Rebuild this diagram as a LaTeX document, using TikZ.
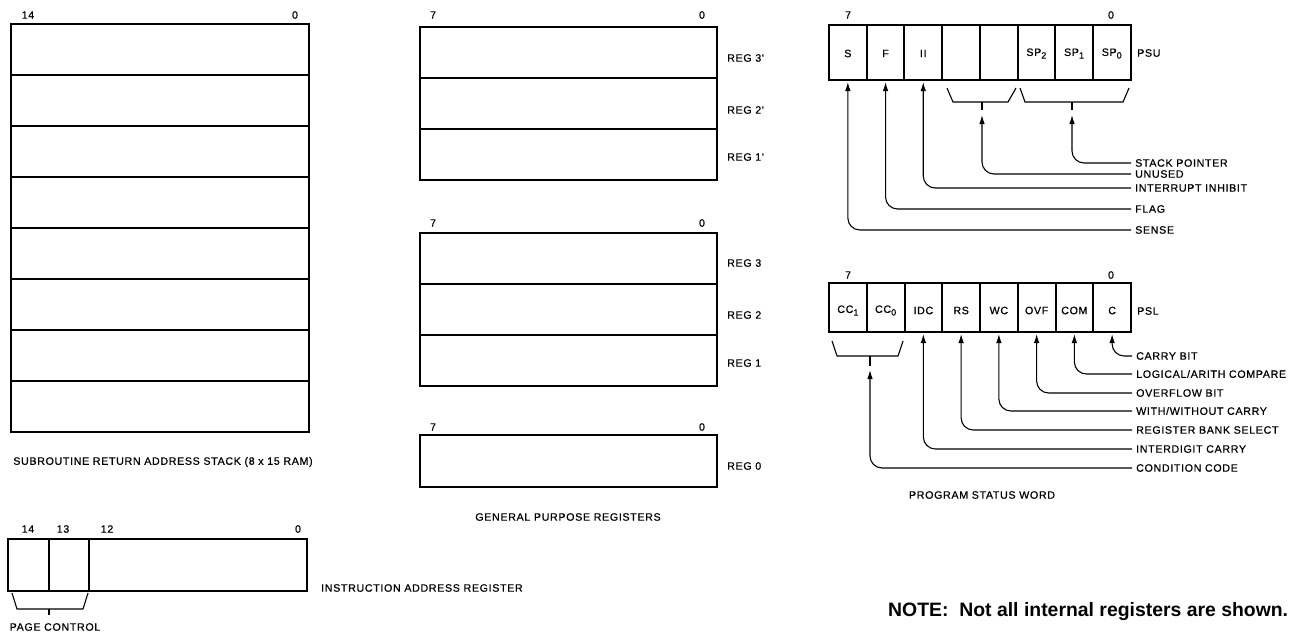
\documentclass[tikz,border=0pt]{standalone}
\usepackage{fontspec}
\setmainfont{Liberation Sans}
\newfontfamily\lblfont[LetterSpace=6,FakeBold=0.6]{Liberation Sans}
\newcommand{\lowsub}[1]{\raisebox{-2.6pt}{\fontsize{9}{10}\selectfont #1}}
\usetikzlibrary{arrows.meta}
\begin{document}
\begin{tikzpicture}[x=1pt,y=-1pt,
  box/.style={draw, line width=2pt, inner sep=0, outer sep=0, anchor=north west},
  lbl/.style={inner sep=0, font=\lblfont\fontsize{10.7}{12}\selectfont},
  lead/.style={inner xsep=4pt, inner ysep=0, anchor=west, font=\lblfont\fontsize{10.7}{12}\selectfont},
  conn/.style={line width=1.1pt, rounded corners=12pt, -{Latex[length=9pt,width=5.5pt]}},
  brk/.style={line width=1.1pt}]
\useasboundingbox (0,0) rectangle (1299,635);

% ---------- Subroutine return address stack ----------
\foreach \i in {0,...,7}
  \node[box, minimum width=298pt, minimum height=51pt] (st\i) at (11,24+51*\i) {};
\node[lbl] (st14) at (28,15) {14};
\node[lbl] (st00) at (295,15) {0};
\node[lbl] (sttitle) at (163,462) {SUBROUTINE RETURN ADDRESS STACK (8 x 15 RAM)};

% ---------- Instruction address register ----------
\node[box, minimum width=41pt, minimum height=52pt] (ia0) at (8,539) {};
\node[box, minimum width=40pt, minimum height=52pt] (ia1) at (49,539) {};
\node[box, minimum width=218pt, minimum height=52pt] (ia2) at (89,539) {};
\node[lbl] (ia14) at (28,529) {14};
\node[lbl] (ia13) at (63,529) {13};
\node[lbl] (ia12) at (107,529) {12};
\node[lbl] (ia00) at (298,529) {0};
\node[lbl, anchor=west] (iatitle) at (321,588) {INSTRUCTION ADDRESS REGISTER};
\draw[brk] (12,593) -- (17,609) -- (83,609) -- (88,593);
\draw[brk] (49,609) -- (49,615);
\node[lbl] (pctitle) at (55,627) {PAGE CONTROL};

% ---------- General purpose registers ----------
\foreach \i in {0,1,2}
  \node[box, minimum width=297pt, minimum height=51pt] (ga\i) at (420,27+51*\i) {};
\foreach \i in {0,1,2}
  \node[box, minimum width=297pt, minimum height=51pt] (gb\i) at (420,233+51*\i) {};
\node[box, minimum width=297pt, minimum height=52pt] (gc0) at (420,435) {};
\node[lbl] (ga7) at (433,15) {7};
\node[lbl] (ga00) at (702,15) {0};
\node[lbl] (gb7) at (433,223) {7};
\node[lbl] (gb00) at (702,223) {0};
\node[lbl] (gc7) at (433,427) {7};
\node[lbl] (gc00) at (702,427) {0};
\node[lbl, anchor=west] (r3p) at (727,58) {REG 3'};
\node[lbl, anchor=west] (r2p) at (727,110) {REG 2'};
\node[lbl, anchor=west] (r1p) at (727,157) {REG 1'};
\node[lbl, anchor=west] (r3) at (727,263) {REG 3};
\node[lbl, anchor=west] (r2) at (727,315) {REG 2};
\node[lbl, anchor=west] (r1) at (727,363) {REG 1};
\node[lbl, anchor=west] (r0) at (727,466) {REG 0};
\node[lbl] (gtitle) at (568,517) {GENERAL PURPOSE REGISTERS};

% ---------- PSU ----------
\foreach \i in {0,...,7}
  \node[box, minimum width=37.7pt, minimum height=55pt] (u\i) at (829+37.7*\i,25) {};
\foreach \i/\t in {0/S,1/F,2/II,5/{SP\lowsub{2}},6/{SP\lowsub{1}},7/{SP\lowsub{0}}}
  \node[lbl] (ut\i) at ([yshift=-1pt]u\i.center) {\t};
\node[lbl] (u7n) at (848,15) {7};
\node[lbl] (u0n) at (1111,15) {0};
\node[lbl, anchor=west] (psu) at (1137,53) {PSU};
\draw[brk] (947,88) -- (953,102) -- (1008,102) -- (1016,88);
\draw[brk] (982,102) -- (982,110);
\coordinate (ubr) at (982,115);
\draw[brk] (1020,88) -- (1025,102) -- (1123,102) -- (1129,88);
\draw[brk] (1072,102) -- (1072,110);
\coordinate (spbr) at (1072,115);
\node[lead] (lsp) at (1131,163) {STACK POINTER};
\node[lead] (lun) at (1131,174) {UNUSED};
\node[lead] (lii) at (1131,188) {INTERRUPT INHIBIT};
\node[lead] (lfl) at (1131,209) {FLAG};
\node[lead] (lse) at (1131,230) {SENSE};
\draw[conn] (lsp.west) -| (spbr);
\draw[conn] (lun.west) -| (ubr);
\draw[conn] (lii.west) -| ([yshift=-2pt]u2.south);
\draw[conn] (lfl.west) -| ([yshift=-2pt]u1.south);
\draw[conn] (lse.west) -| ([yshift=-2pt]u0.south);

% ---------- PSL ----------
\foreach \i in {0,...,7}
  \node[box, minimum width=37.75pt, minimum height=49pt] (l\i) at (829+37.75*\i,283) {};
\foreach \i/\t in {0/{CC\lowsub{1}},1/{CC\lowsub{0}},2/IDC,3/RS,4/WC,5/OVF,6/COM,7/C}
  \node[lbl] (lt\i) at ([yshift=-3pt]l\i.center) {\t};
\node[lbl] (l7n) at (848,275) {7};
\node[lbl] (l0n) at (1111,275) {0};
\node[lbl, anchor=west] (psl) at (1137,311) {PSL};
\draw[brk] (832,341) -- (837,356) -- (898,356) -- (903,341);
\draw[brk] (870,356) -- (870,366);
\coordinate (ccbr) at (870,370);
\node[lead] (lc) at (1132,356) {CARRY BIT};
\node[lead] (lcom) at (1132,374) {LOGICAL/ARITH COMPARE};
\node[lead] (lovf) at (1132,393) {OVERFLOW BIT};
\node[lead] (lwc) at (1132,411) {WITH/WITHOUT CARRY};
\node[lead] (lrs) at (1132,430) {REGISTER BANK SELECT};
\node[lead] (lidc) at (1132,449) {INTERDIGIT CARRY};
\node[lead] (lcc) at (1132,468) {CONDITION CODE};
\draw[conn] (lc.west) -| ([yshift=-2pt]l7.south);
\draw[conn] (lcom.west) -| ([yshift=-2pt]l6.south);
\draw[conn] (lovf.west) -| ([yshift=-2pt]l5.south);
\draw[conn] (lwc.west) -| ([yshift=-2pt]l4.south);
\draw[conn] (lrs.west) -| ([yshift=-2pt]l3.south);
\draw[conn] (lidc.west) -| ([yshift=-2pt]l2.south);
\draw[conn] (lcc.west) -| (ccbr);
\node[lbl] (pswtitle) at (982,495) {PROGRAM STATUS WORD};

% ---------- Note ----------
\node[inner sep=0, anchor=west, font=\bfseries\fontsize{19.4}{22}\selectfont] (note) at (888,612) {NOTE:\ \ Not all internal registers are shown.};
\end{tikzpicture}
\end{document}
